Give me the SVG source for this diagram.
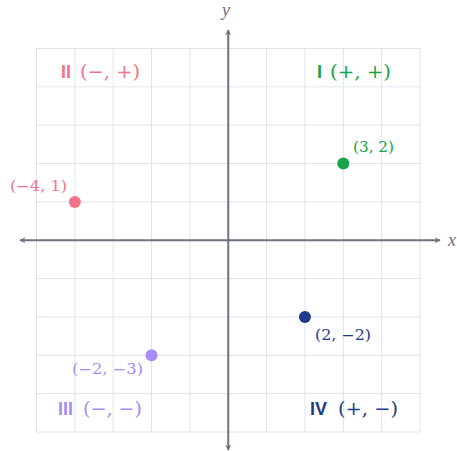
<svg xmlns="http://www.w3.org/2000/svg" width="457" height="451" viewBox="0 0 457 451">
<style>
.grid line{stroke:#dfe4ec;stroke-width:1}
.axis{stroke:#6b7280;stroke-width:2}
.ser{font-family:"DejaVu Serif","Liberation Serif",serif}
.q{font-size:19px}
.qb{font-family:"Liberation Sans",Arial,sans-serif;font-weight:bold;font-size:18px}
.pl{font-size:14px}
.ax{font-family:"Liberation Serif",serif;font-style:italic;font-size:18px;fill:#6b7280}
</style>
<defs>
<marker id="ah" viewBox="0 0 10 10" refX="9" refY="5" markerWidth="6" markerHeight="6" markerUnits="userSpaceOnUse" orient="auto-start-reverse">
<path d="M0,0 L10,5 L0,10 L3,5 Z" fill="#6b7280"/>
</marker>
</defs>
<rect width="457" height="451" fill="#fff"/>
<g class="grid">
<line x1="36.5" y1="48.5" x2="36.5" y2="432"/>
<line x1="74.85" y1="48.5" x2="74.85" y2="432"/>
<line x1="113.2" y1="48.5" x2="113.2" y2="432"/>
<line x1="151.55" y1="48.5" x2="151.55" y2="432"/>
<line x1="189.9" y1="48.5" x2="189.9" y2="432"/>
<line x1="266.6" y1="48.5" x2="266.6" y2="432"/>
<line x1="304.95" y1="48.5" x2="304.95" y2="432"/>
<line x1="343.3" y1="48.5" x2="343.3" y2="432"/>
<line x1="381.65" y1="48.5" x2="381.65" y2="432"/>
<line x1="420" y1="48.5" x2="420" y2="432"/>
<line x1="36.5" y1="48.5" x2="420" y2="48.5"/>
<line x1="36.5" y1="86.85" x2="420" y2="86.85"/>
<line x1="36.5" y1="125.2" x2="420" y2="125.2"/>
<line x1="36.5" y1="163.55" x2="420" y2="163.55"/>
<line x1="36.5" y1="201.9" x2="420" y2="201.9"/>
<line x1="36.5" y1="278.6" x2="420" y2="278.6"/>
<line x1="36.5" y1="316.95" x2="420" y2="316.95"/>
<line x1="36.5" y1="355.3" x2="420" y2="355.3"/>
<line x1="36.5" y1="393.65" x2="420" y2="393.65"/>
<line x1="36.5" y1="432" x2="420" y2="432"/>
</g>
<g id="axes">
<line class="axis" x1="20" y1="240.25" x2="440" y2="240.25" marker-start="url(#ah)" marker-end="url(#ah)"/>
<line class="axis" x1="228.25" y1="30" x2="228.25" y2="450" marker-start="url(#ah)" marker-end="url(#ah)"/>
<text class="ax" x="222" y="16">y</text>
<text class="ax" x="448" y="246">x</text>
</g>
<g id="q2"><text x="61" y="78" class="qb" fill="#f4718a">II</text><text x="80" y="78" class="ser q" fill="#f4718a" textLength="60" lengthAdjust="spacingAndGlyphs">(−, +)</text></g>
<g id="q1"><text x="317" y="78" class="qb" fill="#16a34a">I</text><text x="330" y="78" class="ser q" fill="#16a34a" textLength="61" lengthAdjust="spacingAndGlyphs">(+, +)</text></g>
<g id="q3"><text x="58" y="415" class="qb" fill="#a78bfa">III</text><text x="83" y="415" class="ser q" fill="#a78bfa" textLength="59" lengthAdjust="spacingAndGlyphs">(−, −)</text></g>
<g id="q4"><text x="310" y="415" class="qb" fill="#1e3a8a">IV</text><text x="338" y="415" class="ser q" fill="#1e3a8a" textLength="60" lengthAdjust="spacingAndGlyphs">(+, −)</text></g>
<g id="p1"><circle cx="343.3" cy="163.55" r="6" fill="#16a34a"/><text x="353" y="152" class="ser pl" fill="#16a34a" textLength="41" lengthAdjust="spacingAndGlyphs">(3, 2)</text></g>
<g id="p2"><circle cx="74.85" cy="201.9" r="6" fill="#f4718a"/><text x="10" y="191" class="ser pl" fill="#f4718a" textLength="57" lengthAdjust="spacingAndGlyphs">(−4, 1)</text></g>
<g id="p3"><circle cx="304.95" cy="316.95" r="6" fill="#1e3a8a"/><text x="315" y="340" class="ser pl" fill="#1e3a8a" textLength="56" lengthAdjust="spacingAndGlyphs">(2, −2)</text></g>
<g id="p4"><circle cx="151.55" cy="355.3" r="6" fill="#a78bfa"/><text x="72" y="374" class="ser pl" fill="#a78bfa" textLength="71" lengthAdjust="spacingAndGlyphs">(−2, −3)</text></g>
</svg>
